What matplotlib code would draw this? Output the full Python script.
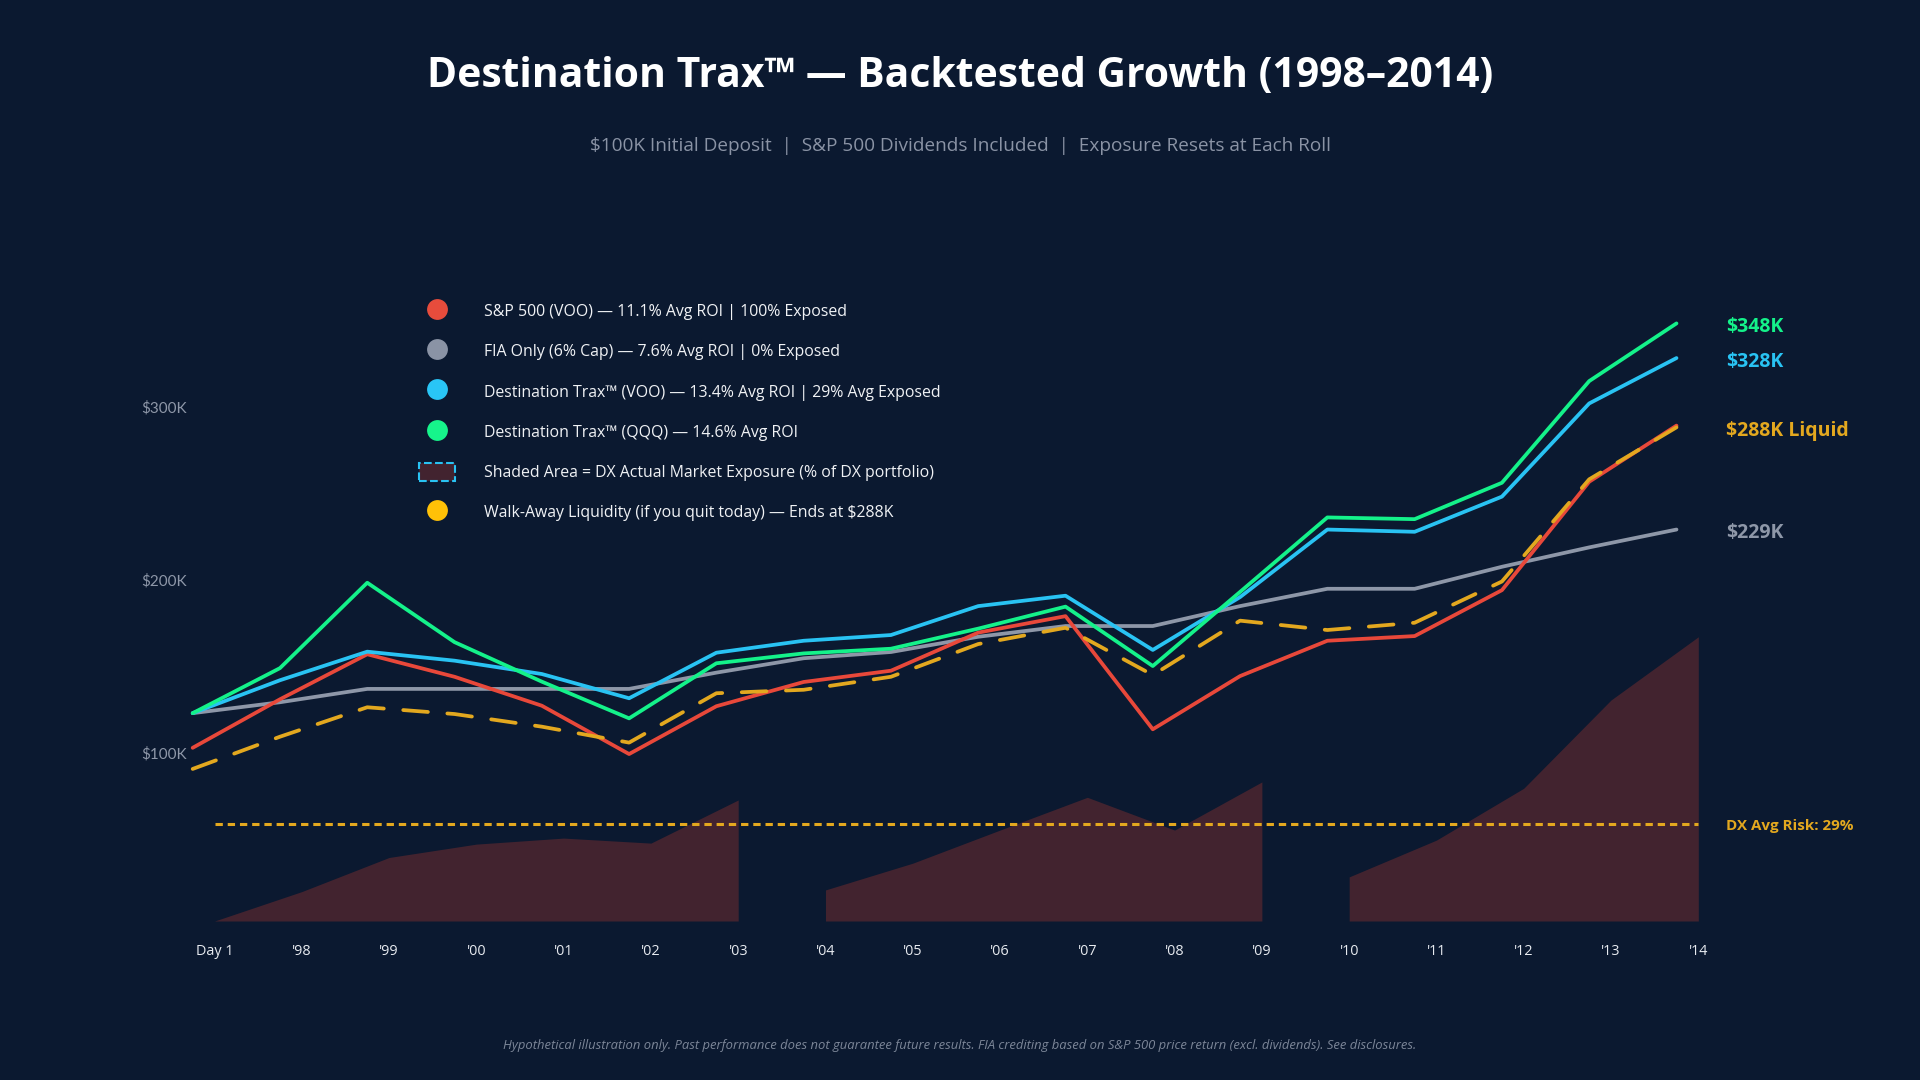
import matplotlib.pyplot as plt
from matplotlib.lines import Line2D
from matplotlib.patches import Patch

# ---- data (values in $K) ----
years = ["Day 1", "'98", "'99", "'00", "'01", "'02", "'03", "'04", "'05",
         "'06", "'07", "'08", "'09", "'10", "'11", "'12", "'13", "'14"]
sp500 = [103, 131, 157, 144, 127.3, 99.4, 127, 141, 147.5,
         169.5, 179, 113.7, 144.4, 164.8, 167.5, 194, 256.6, 289]
fia = [123, 129.3, 137, 137, 137, 137, 146.4, 154.7, 158.3,
       167.1, 173.3, 173.3, 184.8, 194.8, 194.8, 207.5, 218.7, 229]
dx_voo = [123, 142, 158.5, 153.3, 145.6, 131.6, 157.9, 164.8, 168.1,
          184.8, 190.8, 159.5, 190, 229, 227.7, 248, 301.8, 328]
dx_qqq = [123, 149, 198.3, 164, 141.2, 120, 151.8, 157.5, 160.2,
          171.8, 184.5, 150.2, 193, 236, 235, 256, 314.7, 348]
walk_away = [90.8, 109.4, 126.4, 122.5, 115.2, 106, 134.5, 136.5, 144,
             162.9, 172.3, 145, 176.4, 171, 175.2, 199, 258, 288]
# DX market exposure, % of portfolio (resets at each roll)
exposure = [0, 8.8, 19.0, 23.0, 24.8, 23.3, 36.2, 9.3, 17.3,
            27.2, 37.0, 27.2, 41.6, 13.2, 24.2, 39.7, 66.1, 85.0]
roll_starts = [0, 7, 13]
avg_risk = 29

legend_labels = [
    "S&P 500 (VOO) — 11.1% Avg ROI | 100% Exposed",
    "FIA Only (6% Cap) — 7.6% Avg ROI | 0% Exposed",
    "Destination Trax™ (VOO) — 13.4% Avg ROI | 29% Avg Exposed",
    "Destination Trax™ (QQQ) — 14.6% Avg ROI",
    "Shaded Area = DX Actual Market Exposure (% of DX portfolio)",
    "Walk-Away Liquidity (if you quit today) — Ends at \\$288K",
]

bg = '#0b1930'
red, gray, blue, green, gold = '#e8483a', '#8e97a8', '#29c3f3', '#14f28a', '#e3a81f'
shade = '#42232f'

plt.rcParams['font.family'] = ['Open Sans', 'DejaVu Sans']

fig = plt.figure(figsize=(19.2, 10.8), dpi=100, facecolor=bg)
ax = fig.add_axes([0.0979, 0.1472, 0.798, 0.575])
ax2 = ax.twinx()
ax.set_zorder(ax2.get_zorder() + 1)
ax.patch.set_visible(False)
ax2.set_facecolor(bg)

x = list(range(len(years)))
xs = [i + 0.25 for i in x]   # shading + tick labels sit a little right of the line points

# exposure area, one block per roll
bounds = roll_starts + [len(years)]
for a, b in zip(bounds[:-1], bounds[1:]):
    ax2.fill_between(xs[a:b], 0, exposure[a:b], color=shade, lw=0)
ax2.hlines(avg_risk, xs[0], xs[-1], colors=gold, lw=2.2, linestyles=(0, (2.4, 1.6)))
ax2.set_ylim(0, 185.7)
ax2.set_yticks([])

lw = 2.7
ax.plot(x, fia, color=gray, lw=lw, solid_capstyle='round')
ax.plot(x, sp500, color=red, lw=lw, solid_capstyle='round')
ax.plot(x, dx_voo, color=blue, lw=lw, solid_capstyle='round')
ax.plot(x, dx_qqq, color=green, lw=lw, solid_capstyle='round')
ax.plot(x, walk_away, color=gold, lw=lw, dashes=(6.6, 5.2), dash_capstyle='round')

ax.set_xlim(-0.054, 17.5)
ax.set_ylim(3, 361.5)

for a in (ax, ax2):
    for s in a.spines.values():
        s.set_visible(False)

ax.set_xticks(xs, years)
ax.tick_params(axis='x', length=0, pad=16.5, colors='#e8ebf0', labelsize=10.4)
ax.set_yticks([100, 200, 300], ['\\$100K', '\\$200K', '\\$300K'])
ax.tick_params(axis='y', length=0, pad=1, colors=gray, labelsize=11)
for t in ax.get_yticklabels():
    t.set_fontfamily(['Lato', 'DejaVu Sans'])

# end labels, a little right of the last point
end_labels = [
    (dx_qqq[-1], f"\\${dx_qqq[-1]:.0f}K", green),
    (dx_voo[-1], f"\\${dx_voo[-1]:.0f}K", blue),
    (walk_away[-1], f"\\${walk_away[-1]:.0f}K Liquid", gold),
    (fia[-1], f"\\${fia[-1]:.0f}K", gray),
]
for val, txt, c in end_labels:
    ax.annotate(txt, xy=(x[-1], val), xytext=(36, -2.7), textcoords='offset points',
                color=c, fontsize=14, fontweight='bold', va='center', ha='left',
                annotation_clip=False)
ax2.annotate(f"DX Avg Risk: {avg_risk}%", xy=(x[-1], avg_risk), xytext=(36, -1.6),
             textcoords='offset points', color=gold, fontsize=10.9, fontweight='bold',
             va='center', ha='left', annotation_clip=False)

# legend
handles = [
    Line2D([], [], ls='', marker='o', ms=15, mfc='#e74c3c', mec='none'),
    Line2D([], [], ls='', marker='o', ms=15, mfc='#8a93a5', mec='none'),
    Line2D([], [], ls='', marker='o', ms=15, mfc='#29c5f6', mec='none'),
    Line2D([], [], ls='', marker='o', ms=15, mfc='#16f58b', mec='none'),
    Patch(facecolor=shade, edgecolor=blue, linestyle='--', lw=1.5),
    Line2D([], [], ls='', marker='o', ms=15, mfc='#ffc107', mec='none'),
]
fig.legend(handles, legend_labels, loc='upper left', bbox_to_anchor=(0.218, 0.7206),
           frameon=False, fontsize=11.4, labelcolor='#f0f2f5', handlelength=2.3,
           handleheight=1.4, handletextpad=1.85, labelspacing=1.38,
           borderpad=0, borderaxespad=0)

fig.text(0.5, 0.929, "Destination Trax™ — Backtested Growth (1998–2014)",
         ha='center', va='center', color='white', fontsize=29.4, fontweight='bold')
fig.text(0.5, 0.865, "\\$100K Initial Deposit  |  S&P 500 Dividends Included  |  Exposure Resets at Each Roll",
         ha='center', va='center', color='#8a93a5', fontsize=13.7)
fig.text(0.5, 0.0315, "Hypothetical illustration only. Past performance does not guarantee future results. "
         "FIA crediting based on S&P 500 price return (excl. dividends). See disclosures.",
         ha='center', va='center', color='#7c8698', fontsize=9.4, style='italic')

fig.savefig('out.png', dpi=100, facecolor=bg)
